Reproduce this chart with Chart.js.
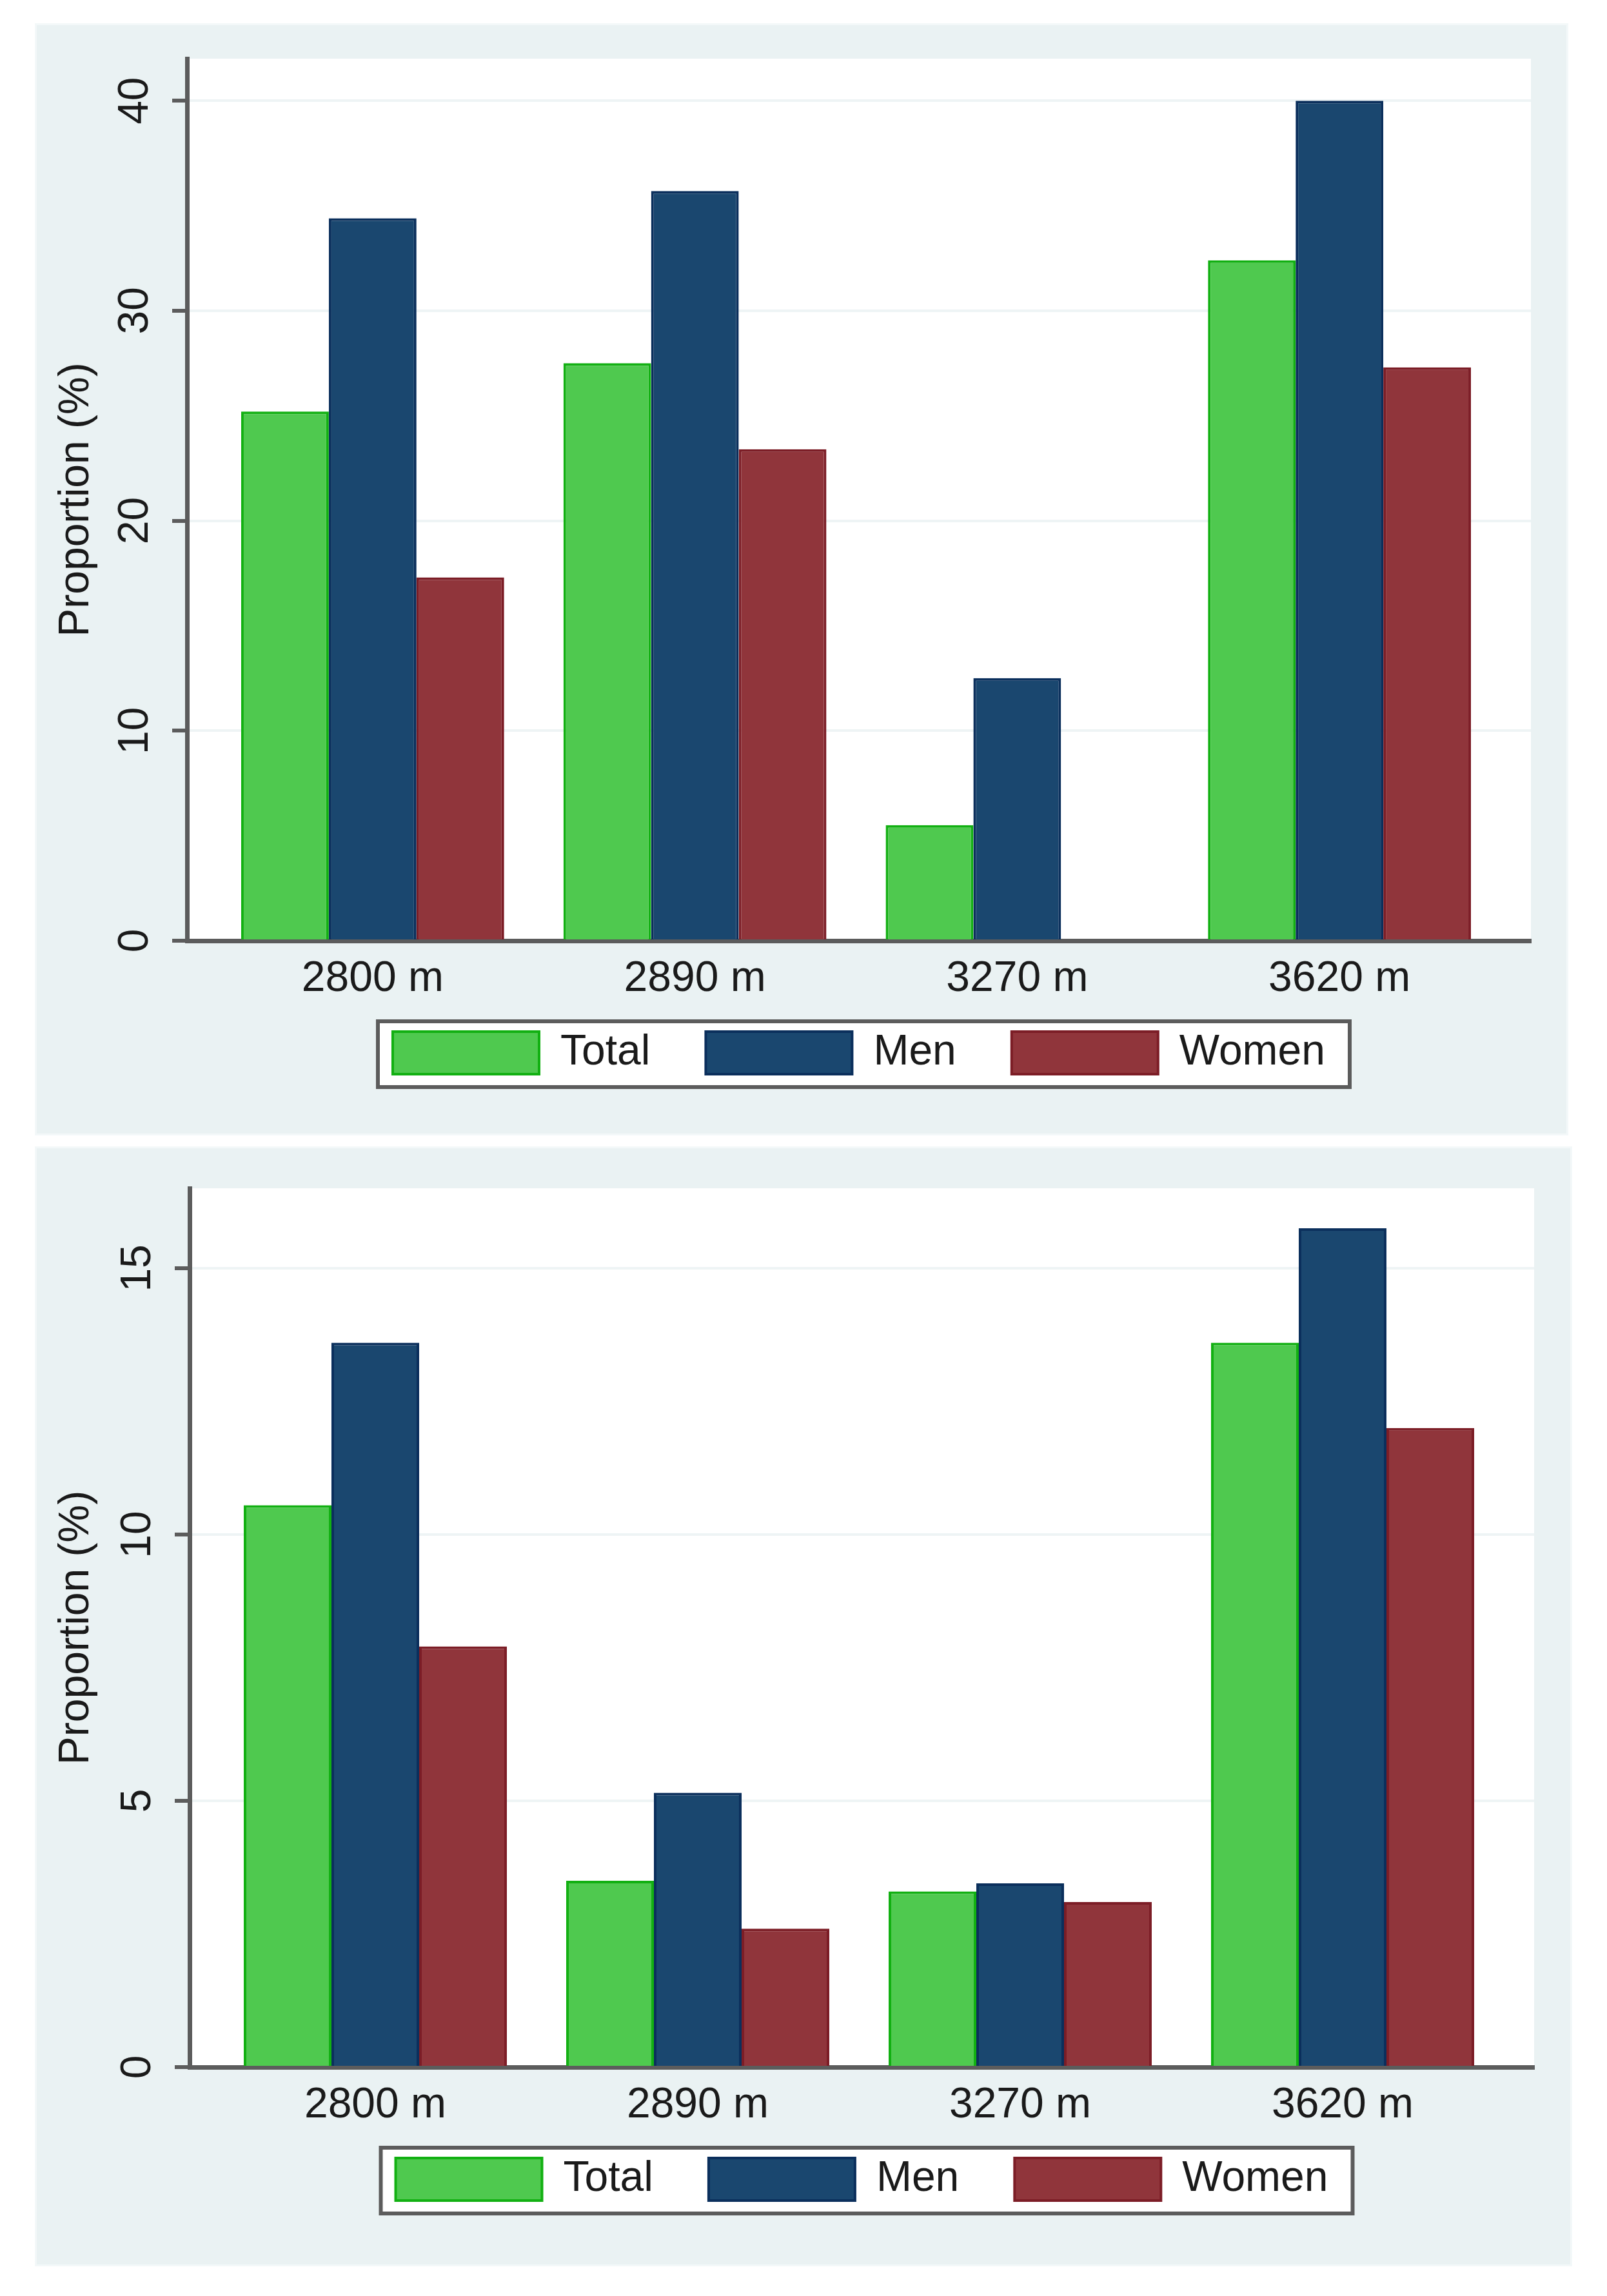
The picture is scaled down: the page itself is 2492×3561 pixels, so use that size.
<!DOCTYPE html>
<html>
<head>
<meta charset="utf-8">
<script src="https://cdn.jsdelivr.net/npm/chart.js@4.4.1/dist/chart.umd.min.js"></script>
<style>
  html, body { margin: 0; padding: 0; background: #ffffff; }
  body { width: 2492px; height: 3561px; position: relative; overflow: hidden; }
  .panel { position: absolute; background: #eaf2f3; box-shadow: 0 0 0 3px #f3f8f9; }
  canvas { display: block; }
</style>
</head>
<body>
<div class="panel" style="left:57px;top:39px;width:2372px;height:1719px">
  <canvas id="chartTop" width="2372" height="1719"></canvas>
</div>
<div class="panel" style="left:57px;top:1781px;width:2378px;height:1731px">
  <canvas id="chartBottom" width="2378" height="1731"></canvas>
</div>
<script>
const categories = ['2800 m', '2890 m', '3270 m', '3620 m'];
const seriesNames = ['Total', 'Men', 'Women'];

// upper panel
const topTotal = [25.2, 27.5, 5.5, 32.4];
const topMen = [34.4, 35.7, 12.5, 40.0];
const topWomen = [17.3, 23.4, 0, 27.3];
const topTicks = [0, 10, 20, 30, 40];

// lower panel
const bottomTotal = [10.55, 3.5, 3.3, 13.6];
const bottomMen = [13.6, 5.15, 3.45, 15.75];
const bottomWomen = [7.9, 2.6, 3.1, 12.0];
const bottomTicks = [0, 5, 10, 15];

const FONT = "'Liberation Sans', Arial, sans-serif";
const FONT_SIZE = 66;
const fills = ['#4fc94f', '#1a476f', '#90353b'];
const borders = ['#12b012', '#0b2f5c', '#7c1d26'];
const axisColor = '#5c5c5c';
const textColor = '#1a1a1a';
const LEGEND_LIFT = 55;

// white plot region + framed legend, like the Stata graph
const plotFrame = {
  id: 'plotFrame',
  afterUpdate(chart) {
    chart.$lifted = false;
  },
  beforeDraw(chart) {
    const {ctx, chartArea: a, legend} = chart;
    // pull the legend up closer to the axis labels
    if (!chart.$lifted) {
      legend.top -= LEGEND_LIFT;
      legend.bottom -= LEGEND_LIFT;
      legend.legendHitBoxes.forEach(h => { h.top -= LEGEND_LIFT; });
      chart.$lifted = true;
    }
    ctx.save();
    ctx.fillStyle = '#ffffff';
    ctx.fillRect(a.left, a.top, a.right - a.left, a.bottom - a.top);
    const boxes = legend.legendHitBoxes;
    if (boxes && boxes.length) {
      const first = boxes[0], last = boxes[boxes.length - 1];
      const mid = first.top + first.height / 2;
      const x0 = first.left - 23, x1 = last.left + last.width + 38;
      ctx.fillRect(x0, mid - 49, x1 - x0, 102);
      ctx.strokeStyle = axisColor;
      ctx.lineWidth = 6;
      ctx.strokeRect(x0, mid - 49, x1 - x0, 102);
    }
    ctx.restore();
  }
};

function makeChart(id, series, yTicks, yMax, pad) {
  const ctx = document.getElementById(id);
  return new Chart(ctx, {
    type: 'bar',
    data: {
      datasets: series.map((vals, i) => ({
        label: seriesNames[i],
        data: vals.map((v, j) => ({x: j, y: v})),
        backgroundColor: fills[i],
        borderColor: borders[i],
        borderWidth: 4,
        categoryPercentage: 0.816,
        barPercentage: 1.0
      }))
    },
    options: {
      responsive: false,
      devicePixelRatio: 1,
      animation: false,
      events: [],
      layout: {padding: {top: pad.top, right: pad.right, bottom: pad.bottom, left: 0}},
      scales: {
        x: {
          type: 'linear',
          offset: false,
          min: -0.576,
          max: 3.594,
          afterBuildTicks: s => { s.ticks = categories.map((c, j) => ({value: j})); },
          afterFit: s => { s.height = 110; s.paddingLeft = 0; s.paddingRight = 0; },
          grid: {display: false, drawTicks: false},
          border: {color: axisColor, width: 7},
          ticks: {
            padding: 20, color: textColor, maxRotation: 0, autoSkip: false,
            font: {family: FONT, size: FONT_SIZE},
            callback: v => categories[v]
          }
        },
        y: {
          min: 0,
          max: yMax,
          afterBuildTicks: s => { s.ticks = yTicks.map(v => ({value: v})); },
          afterFit: s => { s.width = pad.left; s.paddingTop = 0; s.paddingBottom = 0; },
          grid: {
            color: c => (c.tick && c.tick.value === 0) ? 'rgba(0,0,0,0)' : '#eef4f5',
            lineWidth: 4,
            tickColor: axisColor,
            tickWidth: 6,
            tickLength: 23
          },
          border: {color: axisColor, width: 7},
          ticks: {
            padding: 19, crossAlign: 'center', minRotation: 90, maxRotation: 90,
            color: textColor, font: {family: FONT, size: FONT_SIZE}
          },
          title: {
            display: true, text: 'Proportion (%)', color: textColor,
            font: {family: FONT, size: FONT_SIZE}, padding: {top: 22, bottom: 0}
          }
        }
      },
      plugins: {
        legend: {
          position: 'bottom',
          fullSize: false,
          labels: {
            boxWidth: 227, boxHeight: 66, padding: 86, color: textColor,
            font: {family: FONT, size: FONT_SIZE}
          }
        },
        tooltip: {enabled: false}
      }
    },
    plugins: [plotFrame]
  });
}

makeChart('chartTop', [topTotal, topMen, topWomen], topTicks, 42,
  {top: 52, right: 55, bottom: 27, left: 233});
makeChart('chartBottom', [bottomTotal, bottomMen, bottomWomen], bottomTicks, 16.5,
  {top: 62, right: 56, bottom: 34, left: 237});
</script>
</body>
</html>
